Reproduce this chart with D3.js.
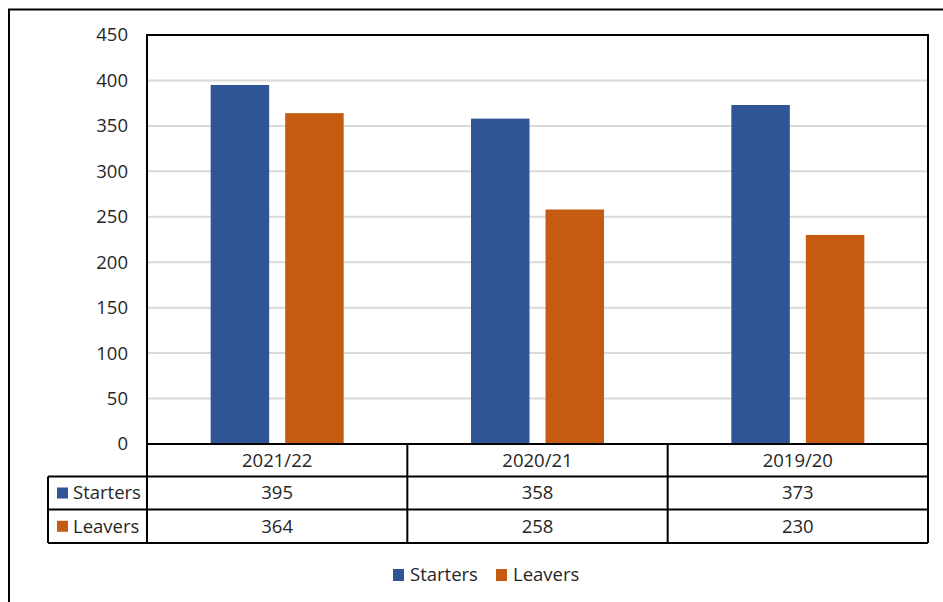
<!DOCTYPE html>
<html>
<head>
<meta charset="utf-8">
<script src="https://cdn.jsdelivr.net/npm/d3@7"></script>
<style>
  html, body { margin: 0; padding: 0; background: #fff; }
  svg { display: block; }
  text { font-family: "Open Sans", "Noto Sans", sans-serif; }
</style>
</head>
<body>
<svg id="chart" width="943" height="602"></svg>
<script>
const categories = ["2021/22", "2020/21", "2019/20"];
const seriesNames = ["Starters", "Leavers"];
const starters = [395, 358, 373];
const leavers = [364, 258, 230];
const yTicks = [0, 50, 100, 150, 200, 250, 300, 350, 400, 450];
const colors = { Starters: "#2F5597", Leavers: "#C55A11" };

const seriesValues = { Starters: starters, Leavers: leavers };

const svg = d3.select("#chart");
const W = 943, H = 602;
const plot = { left: 147, right: 928, top: 35, bottom: 444 };
const textColor = "#262626";
const fontSize = 18.5;

// Outer chart border (extends beyond the right/bottom edges)
svg.append("rect")
  .attr("x", 9).attr("y", 9.5)
  .attr("width", W + 20).attr("height", H + 20)
  .attr("fill", "#fff").attr("stroke", "#000").attr("stroke-width", 2);

const x0 = d3.scaleBand().domain(categories).range([plot.left, plot.right]).paddingInner(0).paddingOuter(0);
const bw = x0.bandwidth();
const groupW = 133;
const x1 = d3.scaleBand().domain(seriesNames)
  .range([bw / 2 - groupW / 2, bw / 2 + groupW / 2])
  .paddingInner(0.2148).paddingOuter(0);
const y = d3.scaleLinear().domain([0, 450]).range([plot.bottom, plot.top]);

// Gridlines
svg.append("g").selectAll("line")
  .data(yTicks.filter(t => t > 0 && t < 450))
  .join("line")
  .attr("x1", plot.left).attr("x2", plot.right)
  .attr("y1", d => y(d)).attr("y2", d => y(d))
  .attr("stroke", "#d9d9d9").attr("stroke-width", 2);

// Y axis labels
const yAxis = d3.axisLeft(y).tickValues(yTicks).tickSize(0).tickPadding(0);
const gy = svg.append("g").attr("transform", `translate(${plot.left - 19},0)`).call(yAxis);
gy.select(".domain").remove();
gy.selectAll("text")
  .attr("fill", textColor)
  .style("font-size", fontSize + "px")
  .style("font-family", '"Open Sans", "Noto Sans", sans-serif');

// Bars
const groups = svg.append("g").selectAll("g")
  .data(categories)
  .join("g")
  .attr("transform", d => `translate(${x0(d)},0)`);

groups.selectAll("rect")
  .data((c, i) => seriesNames.map(s => ({ s, v: seriesValues[s][i] })))
  .join("rect")
  .attr("x", d => x1(d.s))
  .attr("width", x1.bandwidth())
  .attr("y", d => y(d.v))
  .attr("height", d => y(0) - y(d.v))
  .attr("fill", d => colors[d.s]);

// Plot area border
svg.append("rect")
  .attr("x", plot.left).attr("y", plot.top)
  .attr("width", plot.right - plot.left).attr("height", plot.bottom - plot.top)
  .attr("fill", "none").attr("stroke", "#000").attr("stroke-width", 2);

// Data table
const rowY = [444, 476.5, 509.5, 543];
const tableLeft = 48;
const line = (x1_, y1_, x2_, y2_) => svg.append("line")
  .attr("x1", x1_).attr("y1", y1_).attr("x2", x2_).attr("y2", y2_)
  .attr("stroke", "#000").attr("stroke-width", 2);

line(plot.left, rowY[0], plot.right, rowY[0]);
line(tableLeft, rowY[1], plot.right, rowY[1]);
line(tableLeft, rowY[2], plot.right, rowY[2]);
line(tableLeft, rowY[3], plot.right, rowY[3]);
line(tableLeft, rowY[1], tableLeft, rowY[3]);
categories.forEach(c => line(x0(c), rowY[0], x0(c), rowY[3]));
line(plot.right, rowY[0], plot.right, rowY[3]);

const tg = svg.append("g")
  .style("font-size", fontSize + "px").attr("fill", textColor);

// Category header row
tg.selectAll("text.cat")
  .data(categories)
  .join("text")
  .attr("class", "cat")
  .attr("x", d => x0(d) + bw / 2)
  .attr("y", (rowY[0] + rowY[1]) / 2)
  .attr("dy", "0.35em")
  .attr("text-anchor", "middle")
  .text(d => d);

// Series rows
seriesNames.forEach((s, si) => {
  const cy = (rowY[si + 1] + rowY[si + 2]) / 2;
  svg.append("rect")
    .attr("x", 57).attr("y", cy - 5.5)
    .attr("width", 11).attr("height", 11)
    .attr("fill", colors[s]);
  tg.append("text")
    .attr("x", 73).attr("y", cy).attr("dy", "0.35em")
    .text(s);
  tg.selectAll(null)
    .data(seriesValues[s])
    .join("text")
    .attr("x", (d, i) => x0(categories[i]) + bw / 2)
    .attr("y", cy).attr("dy", "0.35em")
    .attr("text-anchor", "middle")
    .text(d => d);
});

// Legend
const legendItems = [{ s: "Starters", x: 393 }, { s: "Leavers", x: 496 }];
const ly = 575;
legendItems.forEach(it => {
  svg.append("rect")
    .attr("x", it.x).attr("y", ly - 6)
    .attr("width", 11).attr("height", 12)
    .attr("fill", colors[it.s]);
  tg.append("text")
    .attr("x", it.x + 17).attr("y", ly).attr("dy", "0.35em")
    .text(it.s);
});
</script>
</body>
</html>
